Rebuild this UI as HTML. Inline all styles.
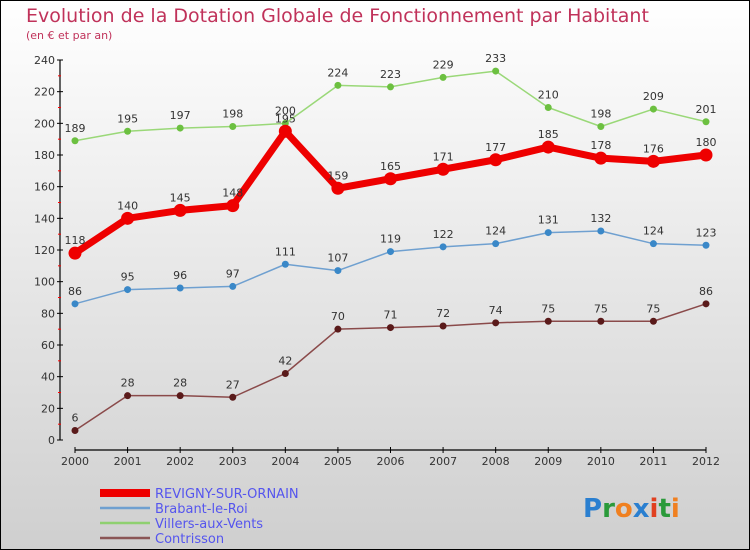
<!DOCTYPE html>
<html><head><meta charset="utf-8"><style>
body{margin:0}
svg{display:block;font-family:"DejaVu Sans","Liberation Sans",sans-serif}
</style></head><body>
<svg width="750" height="550" xmlns="http://www.w3.org/2000/svg">
<defs><linearGradient id="bg" x1="0" y1="0" x2="0" y2="1"><stop offset="0" stop-color="#ffffff"/><stop offset="1" stop-color="#cfcfcf"/></linearGradient></defs>
<rect x="0.5" y="0.5" width="749" height="549" fill="url(#bg)" stroke="#000"/>
<text x="26" y="22" font-size="19" fill="#c0325a">Evolution de la Dotation Globale de Fonctionnement par Habitant</text>
<text x="26" y="39" font-size="11" fill="#c0325a">(en € et par an)</text>
<g id="axes"></g>
<g id="series"></g>
<g>
<rect x="100" y="489" width="50" height="8" fill="#e00"/>
<text x="155" y="498" font-size="13" fill="#5555ee">REVIGNY-SUR-ORNAIN</text>
<line x1="100" y1="508" x2="150" y2="508" stroke="#6fa0d0" stroke-width="2.5"/>
<text x="155" y="513" font-size="13" fill="#5555ee">Brabant-le-Roi</text>
<line x1="100" y1="523" x2="150" y2="523" stroke="#8fd070" stroke-width="2.5"/>
<text x="155" y="528" font-size="13" fill="#5555ee">Villers-aux-Vents</text>
<line x1="100" y1="538" x2="150" y2="538" stroke="#8a5555" stroke-width="2.5"/>
<text x="155" y="543" font-size="13" fill="#5555ee">Contrisson</text>
</g>
<g font-size="26" font-weight="bold">
<text x="583" y="517"><tspan fill="#2a7fd0">P</tspan><tspan fill="#2a9a3a">r</tspan><tspan fill="#f08020">o</tspan><tspan fill="#2a7fd0">x</tspan><tspan fill="#e04020">i</tspan><tspan fill="#2a9a3a">t</tspan><tspan fill="#f08020">i</tspan></text>
</g>
</svg>
<script>
const years=["2000","2001","2002","2003","2004","2005","2006","2007","2008","2009","2010","2011","2012"];
const yTicks=[0,20,40,60,80,100,120,140,160,180,200,220,240];
const revigny=[118,140,145,148,195,159,165,171,177,185,178,176,180];
const brabant=[86,95,96,97,111,107,119,122,124,131,132,124,123];
const villers=[189,195,197,198,200,224,223,229,233,210,198,209,201];
const contrisson=[6,28,28,27,42,70,71,72,74,75,75,75,86];
const NS="http://www.w3.org/2000/svg";
const x=i=>75+i*(631/12);
const y=v=>440-v*(380/240);
function mk(t,a,p){const e=document.createElementNS(NS,t);for(const k in a)e.setAttribute(k,a[k]);p.appendChild(e);return e;}
const ax=document.getElementById('axes');
let l=mk('line',{x1:60,y1:60,x2:60,y2:440,stroke:'#000','stroke-width':1.2},ax);


l=mk('line',{x1:75,y1:450,x2:706,y2:450,stroke:'#000','stroke-width':1.2},ax);


yTicks.forEach((v,i)=>{
 mk('line',{x1:57,y1:y(v),x2:63,y2:y(v),stroke:'#000'},ax);
 if(i<yTicks.length-1)mk('line',{x1:58,y1:y(v+10),x2:61,y2:y(v+10),stroke:'#f00'},ax);
 const t=mk('text',{x:55,y:y(v)+4,'font-size':11,fill:'#333','text-anchor':'end'},ax);t.textContent=v;
 
 
});
years.forEach((yr,i)=>{
 mk('line',{x1:x(i),y1:447,x2:x(i),y2:453,stroke:'#000'},ax);
 const t=mk('text',{x:x(i),y:465,'font-size':11,fill:'#333','text-anchor':'middle'},ax);t.textContent=yr;
 
 
});
const sg=document.getElementById('series');
function series(data,name,color,dot,w,r){
 const g=mk('g',{},sg);
 
 
 mk('polyline',{points:data.map((v,i)=>x(i)+','+y(v)).join(' '),fill:'none',stroke:color,'stroke-width':w,'stroke-linejoin':'round'},g);
 data.forEach((v,i)=>{
  const c=mk('circle',{cx:x(i),cy:y(v),r:r,fill:dot},g);
  
  
  const t=mk('text',{x:x(i),y:y(v)-9,'font-size':11,fill:'#333','text-anchor':'middle'},g);t.textContent=v;
  
  
 });
}
series(contrisson,'contrisson','#8a4a4a','#5a1a1a',1.5,3.5);
series(brabant,'brabant','#6fa0d0','#3a88c8',1.5,3.5);
series(villers,'villers','#9ad878','#6cc040',1.5,3.5);
series(revigny,'revigny','#ee0000','#ee0000',7,6.5);
</script>
</body></html>
